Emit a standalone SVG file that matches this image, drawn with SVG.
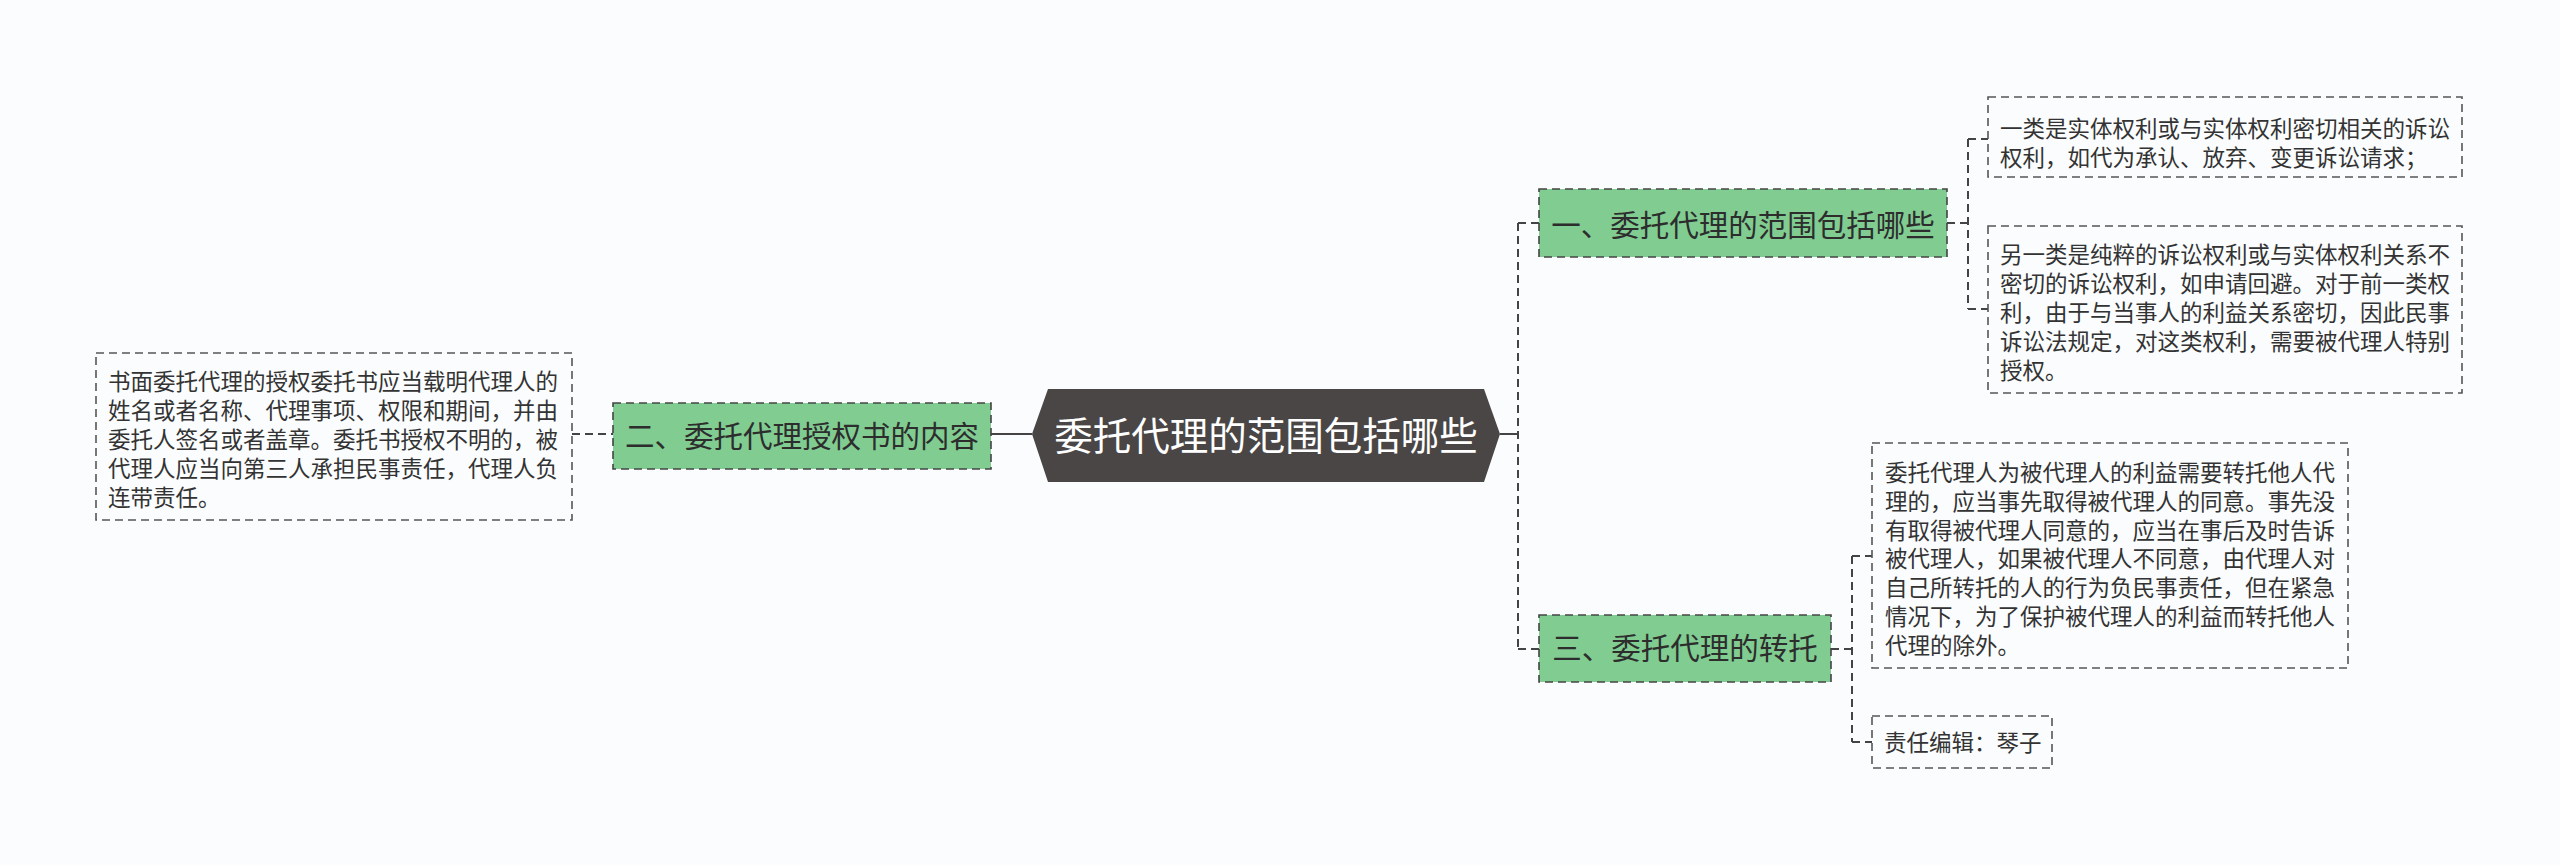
<svg xmlns="http://www.w3.org/2000/svg" width="2560" height="865" viewBox="0 0 2560 865">
<style>
.bg{fill:#fafcfd}
.conn{fill:none;stroke:#444;stroke-width:2;stroke-dasharray:8 5}
.solid{fill:none;stroke:#444;stroke-width:2}
.topic{fill:#80cc91;stroke:#444;stroke-width:1.6;stroke-dasharray:8 5}
.leaf{fill:none;stroke:#555;stroke-width:1.6;stroke-dasharray:8 5}
.ttxt{font-family:"Noto Sans CJK SC","Noto Sans",sans-serif;font-size:29.5px;fill:#2d2d2d;text-anchor:middle}
.ltxt{font-family:"Noto Sans CJK SC","Noto Sans",sans-serif;font-size:22.5px;fill:#333}
.ctxt{font-family:"Noto Sans CJK SC","Noto Sans",sans-serif;font-size:38.5px;fill:#ffffff;text-anchor:middle}
</style>
<rect class="bg" x="0" y="0" width="2560" height="865"/>
<g id="connectors">
  <line class="solid" x1="991" y1="434" x2="1032" y2="434"/>
  <line class="solid" x1="1500" y1="434" x2="1518" y2="434"/>
  <line class="conn" x1="1518" y1="223" x2="1518" y2="649"/>
  <line class="conn" x1="1518" y1="223" x2="1539" y2="223"/>
  <line class="conn" x1="1518" y1="649" x2="1539" y2="649"/>
  <line class="conn" x1="572" y1="434" x2="613" y2="434"/>
  <line class="conn" x1="1947" y1="223" x2="1968" y2="223"/>
  <line class="conn" x1="1968" y1="139" x2="1968" y2="309"/>
  <line class="conn" x1="1968" y1="139" x2="1988" y2="139"/>
  <line class="conn" x1="1968" y1="309" x2="1988" y2="309"/>
  <line class="conn" x1="1831" y1="649" x2="1852" y2="649"/>
  <line class="conn" x1="1852" y1="556" x2="1852" y2="742"/>
  <line class="conn" x1="1852" y1="556" x2="1872" y2="556"/>
  <line class="conn" x1="1852" y1="742" x2="1872" y2="742"/>
</g>
<g id="center">
  <polygon points="1032,434 1048,389 1484,389 1500,434 1484,482 1048,482" fill="#4a4646"/>
  <text class="ctxt" x="1266" y="450">委托代理的范围包括哪些</text>
</g>
<g id="node2">
  <rect class="topic" x="613" y="403" width="378" height="66"/>
  <text class="ttxt" x="802" y="447">二、委托代理授权书的内容</text>
</g>
<g id="leaf2">
  <rect class="leaf" x="96" y="353" width="476" height="167"/>
  <text class="ltxt" x="108" y="389.5">书面委托代理的授权委托书应当载明代理人的</text>
  <text class="ltxt" x="108" y="418.7">姓名或者名称、代理事项、权限和期间，并由</text>
  <text class="ltxt" x="108" y="447.9">委托人签名或者盖章。委托书授权不明的，被</text>
  <text class="ltxt" x="108" y="477.1">代理人应当向第三人承担民事责任，代理人负</text>
  <text class="ltxt" x="108" y="506.3">连带责任。</text>
</g>
<g id="node1">
  <rect class="topic" x="1539" y="189" width="408" height="68"/>
  <text class="ttxt" x="1743" y="236">一、委托代理的范围包括哪些</text>
</g>
<g id="leaf1a">
  <rect class="leaf" x="1988" y="97" width="474" height="80"/>
  <text class="ltxt" x="2000" y="137">一类是实体权利或与实体权利密切相关的诉讼</text>
  <text class="ltxt" x="2000" y="166">权利，如代为承认、放弃、变更诉讼请求；</text>
</g>
<g id="leaf1b">
  <rect class="leaf" x="1988" y="226" width="474" height="167"/>
  <text class="ltxt" x="2000" y="263">另一类是纯粹的诉讼权利或与实体权利关系不</text>
  <text class="ltxt" x="2000" y="292">密切的诉讼权利，如申请回避。对于前一类权</text>
  <text class="ltxt" x="2000" y="321">利，由于与当事人的利益关系密切，因此民事</text>
  <text class="ltxt" x="2000" y="350">诉讼法规定，对这类权利，需要被代理人特别</text>
  <text class="ltxt" x="2000" y="379">授权。</text>
</g>
<g id="node3">
  <rect class="topic" x="1539" y="615" width="292" height="67"/>
  <text class="ttxt" x="1685" y="659">三、委托代理的转托</text>
</g>
<g id="leaf3a">
  <rect class="leaf" x="1872" y="443" width="476" height="225"/>
  <text class="ltxt" x="1885" y="481">委托代理人为被代理人的利益需要转托他人代</text>
  <text class="ltxt" x="1885" y="509.8">理的，应当事先取得被代理人的同意。事先没</text>
  <text class="ltxt" x="1885" y="538.6">有取得被代理人同意的，应当在事后及时告诉</text>
  <text class="ltxt" x="1885" y="567.4">被代理人，如果被代理人不同意，由代理人对</text>
  <text class="ltxt" x="1885" y="596.2">自己所转托的人的行为负民事责任，但在紧急</text>
  <text class="ltxt" x="1885" y="625">情况下，为了保护被代理人的利益而转托他人</text>
  <text class="ltxt" x="1885" y="653.8">代理的除外。</text>
</g>
<g id="leaf3b">
  <rect class="leaf" x="1872" y="716" width="180" height="52"/>
  <text class="ltxt" x="1884" y="751">责任编辑：琴子</text>
</g>
</svg>
